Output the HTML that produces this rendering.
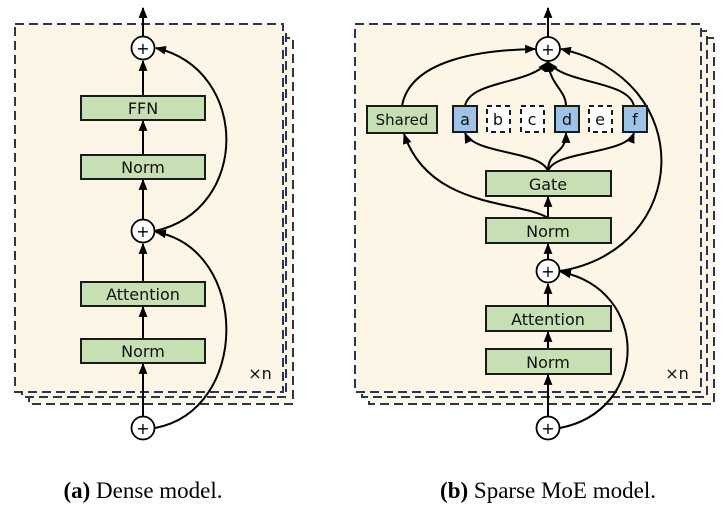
<!DOCTYPE html>
<html><head><style>
body{margin:0;background:#fff;width:726px;height:512px;overflow:hidden}
svg text{font-family:"DejaVu Sans","Liberation Sans",sans-serif}
</style></head><body>
<svg width="726" height="512" viewBox="0 0 726 512" xmlns="http://www.w3.org/2000/svg">
<defs>
<marker id="ar" viewBox="0 0 10 10" refX="9" refY="5" markerWidth="5.5" markerHeight="5.5" orient="auto-start-reverse"><path d="M0,1 L10,5 L0,9 z" fill="#000"/></marker>
</defs>
<g fill="#fdf5e6" stroke="#2c3650" stroke-width="2" stroke-dasharray="9,5">
<rect x="29" y="38" width="264" height="366"/>
<rect x="22" y="31" width="264" height="366"/>
<rect x="15" y="24" width="268" height="368"/>
<rect x="369" y="38" width="345" height="366"/>
<rect x="362" y="31" width="345" height="366"/>
<rect x="355" y="24" width="346" height="368"/>
</g>
<g stroke="#000" stroke-width="2" fill="none">
<line x1="143" y1="36" x2="143" y2="8" marker-end="url(#ar)"/>
<line x1="143" y1="96" x2="143" y2="61" marker-end="url(#ar)"/>
<line x1="143" y1="155" x2="143" y2="121" marker-end="url(#ar)"/>
<line x1="143" y1="219" x2="143" y2="180" marker-end="url(#ar)"/>
<line x1="143" y1="282" x2="143" y2="244" marker-end="url(#ar)"/>
<line x1="143" y1="339" x2="143" y2="307" marker-end="url(#ar)"/>
<line x1="143" y1="416" x2="143" y2="364" marker-end="url(#ar)"/>
<path d="M155,428 C250,410 250,250 156,232" marker-end="url(#ar)"/>
<path d="M155,231 C250,210 250,70 156,48" marker-end="url(#ar)"/>
<line x1="548" y1="37" x2="548" y2="8" marker-end="url(#ar)"/>
<line x1="548" y1="416" x2="548" y2="375" marker-end="url(#ar)"/>
<line x1="548" y1="349" x2="548" y2="332" marker-end="url(#ar)"/>
<line x1="548" y1="306" x2="548" y2="284" marker-end="url(#ar)"/>
<line x1="548" y1="259" x2="548" y2="244" marker-end="url(#ar)"/>
<line x1="548" y1="218" x2="548" y2="197" marker-end="url(#ar)"/>
<path d="M560,428 C650,410 650,290 561,272" marker-end="url(#ar)"/>
<path d="M560,271 C690,250 700,80 561,49" marker-end="url(#ar)"/>
<path d="M548,218 C520,200 430,210 404,134" marker-end="url(#ar)"/>
<path d="M402,106 C410,60 480,50 535,49" marker-end="url(#ar)"/>
<path d="M548,171 C540,150 475,155 465,133" marker-end="url(#ar)"/>
<path d="M548,171 C548,150 566,155 566,133" marker-end="url(#ar)"/>
<path d="M548,171 C555,150 625,155 634,133" marker-end="url(#ar)"/>
<path d="M465,106 C470,80 530,85 548,62" marker-end="url(#ar)"/>
<path d="M566,106 C566,90 550,85 548,62" marker-end="url(#ar)"/>
<path d="M634,106 C628,80 566,85 548,62" marker-end="url(#ar)"/>
</g>
<g stroke="#000" stroke-width="1.8" fill="#fff">
<circle cx="143" cy="48" r="11.5"/><circle cx="143" cy="231" r="11.5"/><circle cx="143" cy="428" r="11.5"/>
<circle cx="548" cy="49" r="12"/><circle cx="548" cy="271" r="11.5"/><circle cx="548" cy="428" r="11.5"/>
</g>
<g font-size="16" text-anchor="middle" fill="#000">
<text x="143" y="54">+</text><text x="143" y="237">+</text><text x="143" y="434">+</text>
<text x="548" y="55">+</text><text x="548" y="277">+</text><text x="548" y="434">+</text>
</g>
<g fill="#c6e0b4" stroke="#1a1a1a" stroke-width="2">
<rect x="81" y="96" width="124" height="24"/>
<rect x="81" y="155" width="124" height="24"/>
<rect x="81" y="282" width="124" height="24"/>
<rect x="81" y="339" width="124" height="24"/>
<rect x="367" y="106" width="70" height="27"/>
<rect x="486" y="171" width="125" height="25"/>
<rect x="486" y="218" width="125" height="25"/>
<rect x="486" y="306" width="125" height="25"/>
<rect x="486" y="349" width="125" height="25"/>
</g>
<g fill="#9dc3e6" stroke="#1a1a1a" stroke-width="2">
<rect x="453" y="106" width="24" height="26"/>
<rect x="555" y="106" width="24" height="26"/>
<rect x="623" y="106" width="24" height="26"/>
</g>
<g fill="#fff" stroke="#1a1a1a" stroke-width="2" stroke-dasharray="5,4">
<rect x="487" y="106" width="23" height="26"/>
<rect x="521" y="106" width="23" height="26"/>
<rect x="589" y="106" width="23" height="26"/>
</g>
<g font-size="16" text-anchor="middle" fill="#111">
<text x="143" y="114">FFN</text>
<text x="143" y="173">Norm</text>
<text x="143" y="300">Attention</text>
<text x="143" y="357">Norm</text>
<text x="402" y="125" font-size="15">Shared</text>
<text x="548" y="190">Gate</text>
<text x="548" y="237">Norm</text>
<text x="548" y="325">Attention</text>
<text x="548" y="368">Norm</text>
<text x="465" y="125">a</text><text x="498" y="125">b</text><text x="532" y="125">c</text>
<text x="567" y="125">d</text><text x="600" y="125">e</text><text x="635" y="125">f</text>
<text x="260" y="379">×n</text>
<text x="677" y="379">×n</text>
</g>
<g font-size="23" text-anchor="middle" fill="#000">
<text x="143" y="498" style="font-family:'Liberation Serif',serif"><tspan font-weight="bold">(a)</tspan> Dense model.</text>
<text x="548" y="498" style="font-family:'Liberation Serif',serif"><tspan font-weight="bold">(b)</tspan> Sparse MoE model.</text>
</g>
</svg>
</body></html>
